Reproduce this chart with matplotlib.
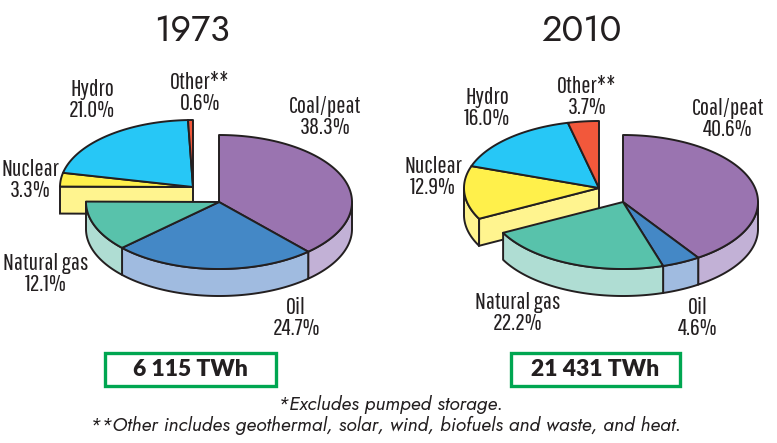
import numpy as np
import matplotlib
matplotlib.use('Agg')
import matplotlib.pyplot as plt
from matplotlib.patches import Polygon, Rectangle

names = ['Coal/peat', 'Oil', 'Natural gas', 'Nuclear', 'Hydro', 'Other**']
shares_1973 = [38.3, 24.7, 12.1, 3.3, 21.0, 0.6]
shares_2010 = [40.6, 4.6, 22.2, 12.9, 16.0, 3.7]
totals = ['6 115 TWh', '21 431 TWh']
years = ['1973', '2010']

top_colors = ['#9A74B0', '#4488C6', '#58C2AB', '#FFF04B', '#27C7F6', '#F2583B']
side_colors = ['#C2B1D6', '#A0BBE0', '#AFDDD3', '#FFF48F', '#9FE3FA', '#F8A893']
edge = '#231F20'
narrow = ['Pathway Gothic One', 'Lato']
round_font = ['Jost', 'Lato']

# label centres in pixels, same order as names
label_pos_1973 = [(325, 117), (296, 318), (46, 274), (30, 180), (92, 100), (200, 93)]
label_pos_2010 = [(728, 119), (698, 318), (518, 313), (433, 177), (487, 108), (587, 97)]


def arc(cx, cy, rx, ry, a0, a1):
    # angles are clockwise from 12 o'clock, in degrees
    t = np.radians(np.linspace(a0, a1, max(int(abs(a1 - a0)) * 2, 2)))
    return np.column_stack([cx + rx * np.sin(t), cy - ry * np.cos(t)])


def draw_group(ax, idx, angles, cx, cy, rx, ry, depth, cut_face):
    # outer rim, only the front half of the ellipse shows
    for i in idx:
        a0 = max(angles[i], 90)
        a1 = min(angles[i + 1], 270)
        if a1 > a0:
            upper = arc(cx, cy, rx, ry, a0, a1)
            lower = upper[::-1] + [0, depth]
            ax.add_patch(Polygon(np.vstack([upper, lower]), closed=True, fc=side_colors[i],
                                 ec=edge, lw=1.4, joinstyle='round'))
    if cut_face is not None:
        a = angles[cut_face]
        p = arc(cx, cy, rx, ry, a, a + 0.1)[0]
        face = [(cx, cy), p, p + [0, depth], (cx, cy + depth)]
        ax.add_patch(Polygon(face, closed=True, fc=side_colors[cut_face], ec=edge, lw=1.4))
    for i in idx:
        top = arc(cx, cy, rx, ry, angles[i], angles[i + 1])
        ax.add_patch(Polygon(np.vstack([[cx, cy], top]), closed=True, fc=top_colors[i],
                             ec=edge, lw=1.4, joinstyle='round'))


def draw_pie(ax, shares, main_c, off_c, rx, ry, depth):
    angles = np.concatenate([[0], np.cumsum(shares)]) * 3.6
    # nuclear, hydro and other are pulled out and sit behind the rest
    draw_group(ax, [3, 4, 5], angles, off_c[0], off_c[1], rx, ry, depth, 3)
    draw_group(ax, [0, 1, 2], angles, main_c[0], main_c[1], rx, ry, depth, None)


def draw_labels(ax, shares, positions):
    for name, val, (x, y) in zip(names, shares, positions):
        ax.text(x, y, f'{name}\n{val:.1f}%', family=narrow, fontsize=17.5, color=edge,
                ha='center', va='center', linespacing=0.97)


fig = plt.figure(figsize=(7.77, 4.43), dpi=100)
ax = fig.add_axes([0, 0, 1, 1])
ax.set_xlim(0, 777)
ax.set_ylim(443, 0)
ax.axis('off')

draw_pie(ax, shares_1973, (219, 202), (193, 187), 133, 67, 27)
draw_pie(ax, shares_2010, (623, 202), (599, 188), 135, 67, 27)
draw_labels(ax, shares_1973, label_pos_1973)
draw_labels(ax, shares_2010, label_pos_2010)

ax.text(192, 31, years[0], family=round_font, fontsize=26, color=edge, ha='center', va='center')
ax.text(581, 31, years[1], family=round_font, fontsize=26, color=edge, ha='center', va='center')

for (x0, x1), total in zip([(105, 276), (511, 680)], totals):
    ax.add_patch(Rectangle((x0, 353), x1 - x0, 33, fc='white', ec='#00A651', lw=2.4))
    ax.text((x0 + x1) / 2, 370, total, family='Lato', fontsize=16.5, fontweight='heavy',
            color=edge, ha='center', va='center')

ax.text(390, 404, '*Excludes pumped storage.', family=round_font, style='italic', fontsize=14,
        color=edge, ha='center', va='center')
ax.text(386, 425, '**Other includes geothermal, solar, wind, biofuels and waste, and heat.',
        family=round_font, style='italic', fontsize=14, color=edge, ha='center', va='center')

fig.savefig('out.png', dpi=100)
